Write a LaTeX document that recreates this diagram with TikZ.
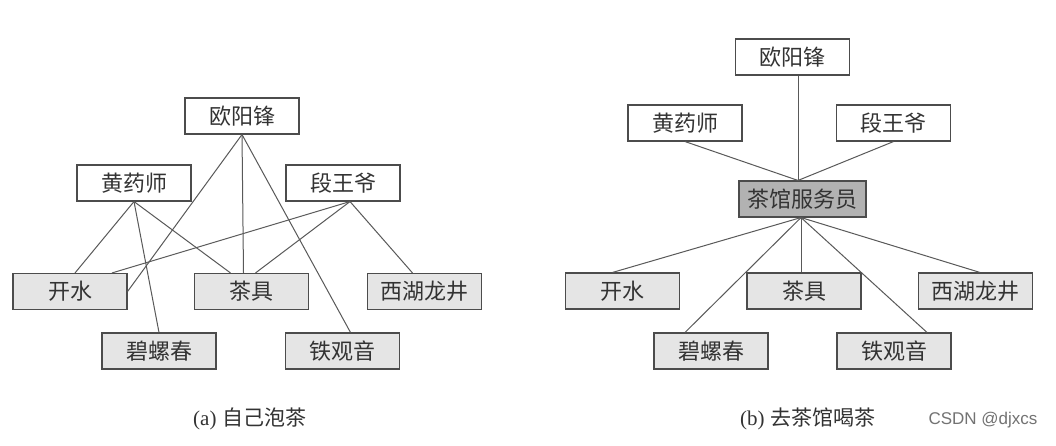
\documentclass[tikz,border=0pt]{standalone}
\usepackage{fontspec}
\setmainfont{Liberation Serif}
\newfontfamily\cjk{Noto Sans CJK SC}
\newfontfamily\wmfont{Liberation Sans}
\begin{document}
\begin{tikzpicture}[x=1pt,y=-1pt,
  box/.style={draw=black!70, line width=1.1pt, minimum width=114pt, minimum height=36pt,
    inner sep=0pt, font=\cjk\fontsize{22}{22}\selectfont, text=black!80},
  pbox/.style={box, fill=white},
  gbox/.style={box, fill=black!10},
  dbox/.style={box, fill=black!30, minimum width=127pt},
  link/.style={draw=black!65, line width=1pt},
  caption/.style={font=\fontsize{21}{21}\selectfont, text=black!80, inner sep=0pt},
  wmark/.style={font=\wmfont\fontsize{17}{17}\selectfont, text=black!55, inner sep=0pt}]
\useasboundingbox[fill=white] (0,0) rectangle (1056,446);

% ---------- (a) ----------
\node[pbox] (oyA) at (242,116) {欧阳锋};
\node[pbox] (hyA) at (134,183) {黄药师};
\node[pbox] (dwA) at (343,183) {段王爷};
\node[gbox] (ksA) at (70,291.5) {开水};
\node[gbox] (cjA) at (251.5,291.5) {茶具};
\node[gbox] (xhA) at (424.5,291.5) {西湖龙井};
\node[gbox] (blA) at (159,351) {碧螺春};
\node[gbox] (tgA) at (342.5,351) {铁观音};

\coordinate (dwAb) at ([xshift=7pt]dwA.south);
\draw[link] (oyA.south) -- (ksA.east);
\draw[link] (oyA.south) -- ([xshift=-8pt]cjA.north);
\draw[link] (oyA.south) -- ([xshift=8pt]tgA.north);
\draw[link] (hyA.south) -- ([xshift=5pt]ksA.north);
\draw[link] (hyA.south) -- (blA.north);
\draw[link] (hyA.south) -- ([xshift=-21pt]cjA.north);
\draw[link] (dwAb) -- ([xshift=42pt]ksA.north);
\draw[link] (dwAb) -- ([xshift=4pt]cjA.north);
\draw[link] (dwAb) -- ([xshift=-12pt]xhA.north);

\node[caption] (capA) at (250,419) {(a)\hspace{0.3em}{\cjk 自己泡茶}};

% ---------- (b) ----------
\node[pbox] (oyB) at (792.5,57) {欧阳锋};
\node[pbox] (hyB) at (685,123) {黄药师};
\node[pbox] (dwB) at (893.5,123) {段王爷};
\node[dbox] (fw) at (802.5,199) {茶馆服务员};
\node[gbox] (ksB) at (622.5,291) {开水};
\node[gbox] (cjB) at (804,291) {茶具};
\node[gbox] (xhB) at (975.5,291) {西湖龙井};
\node[gbox] (blB) at (711,351) {碧螺春};
\node[gbox] (tgB) at (894,351) {铁观音};

\coordinate (fwT) at ([xshift=-4.5pt]fw.north);
\coordinate (fwB) at ([xshift=-1.5pt]fw.south);
\draw[link] ([xshift=5.5pt]oyB.south) -- (fwT);
\draw[link] (hyB.south) -- (fwT);
\draw[link] (dwB.south) -- (fwT);
\draw[link] (fwB) -- ([xshift=-10pt]ksB.north);
\draw[link] (fwB) -- ([xshift=-26pt]blB.north);
\draw[link] (fwB) -- ([xshift=-3pt]cjB.north);
\draw[link] (fwB) -- ([xshift=33pt]tgB.north);
\draw[link] (fwB) -- ([xshift=4.5pt]xhB.north);

\node[caption] (capB) at (808,419) {(b)\hspace{0.3em}{\cjk 去茶馆喝茶}};
\node[wmark] (wm) at (983,420) {CSDN @djxcs};
\end{tikzpicture}
\end{document}
